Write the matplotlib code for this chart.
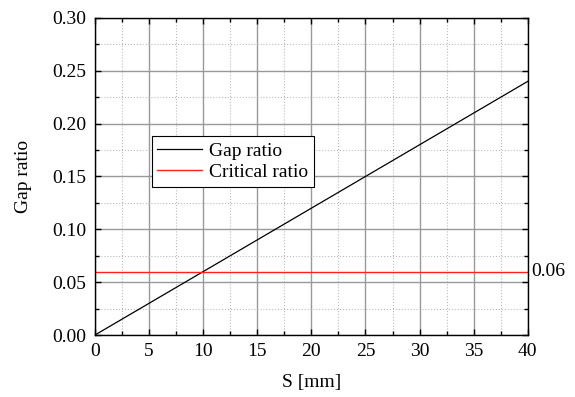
import matplotlib.pyplot as plt
from matplotlib.ticker import MultipleLocator

plt.rcParams['font.family'] = ['Liberation Serif', 'DejaVu Serif']
plt.rcParams['font.size'] = 14

# data
s_mm = [0, 40]
gap_ratio = [0.0, 0.24]
critical = 0.06

fig = plt.figure(figsize=(5.75, 3.97), dpi=100)
ax = fig.add_axes([0.165, 0.156, 0.753, 0.799])

ax.plot(s_mm, gap_ratio, color='black', lw=0.9, label='Gap ratio')
ax.axhline(critical, color='#ff2020', lw=1.0, label='Critical ratio')

ax.set_xlim(0, 40)
ax.set_ylim(0, 0.30)
ax.xaxis.set_major_locator(MultipleLocator(5))
ax.xaxis.set_minor_locator(MultipleLocator(2.5))
ax.yaxis.set_major_locator(MultipleLocator(0.05))
ax.yaxis.set_minor_locator(MultipleLocator(0.025))
ax.yaxis.set_major_formatter(plt.FormatStrFormatter('%.2f'))

ax.grid(which='major', color='#999999', lw=1.0)
ax.grid(which='minor', color='#bbbbbb', lw=0.8, ls=':')
ax.set_axisbelow(True)
ax.tick_params(which='both', direction='in', top=True, right=True)
ax.tick_params(which='major', length=4, width=1)
ax.tick_params(which='minor', length=3, width=1)
ax.tick_params(axis='y', pad=6)
ax.tick_params(axis='x', pad=6)
for sp in ax.spines.values():
    sp.set_linewidth(1.0)

ax.text(40.3, critical, '0.06', va='center', ha='left', fontsize=14)

ax.set_xlabel('S [mm]', labelpad=10)
ax.set_ylabel('Gap ratio', labelpad=15)

leg = ax.legend(loc='upper left', bbox_to_anchor=(0.131, 0.627), frameon=True,
                fancybox=False, edgecolor='black', framealpha=1,
                handlelength=2.3, handletextpad=0.35, borderpad=0.3,
                labelspacing=0.2, borderaxespad=0)
leg.get_frame().set_linewidth(0.8)

fig.savefig('out.png', dpi=100)
